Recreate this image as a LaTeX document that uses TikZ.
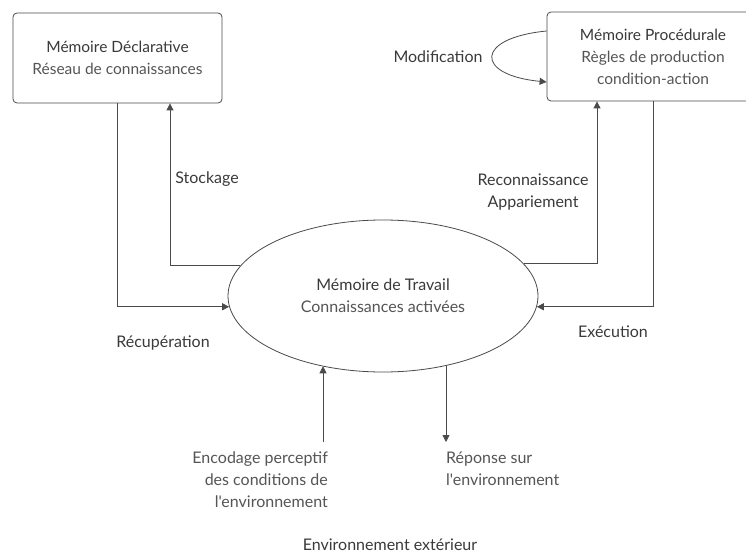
\documentclass[tikz,border=0pt]{standalone}
\usepackage{fontspec}
\setmainfont{Lato}[Ligatures=TeXOff]
\usetikzlibrary{shapes.geometric,arrows.meta,calc}
\definecolor{ink}{HTML}{3A3A3A}
\definecolor{soft}{HTML}{555555}
\definecolor{wire}{HTML}{4A4A4A}
\begin{document}
\begin{tikzpicture}[x=1pt,y=-1pt,
  box/.style={draw=wire, rounded corners=4pt, line width=0.8pt, align=center, text=soft,
    font=\fontsize{15.5}{22}\selectfont},
  conn/.style={draw=wire, line width=0.8pt},
  arr/.style={conn, -{Triangle[length=7pt,width=7pt]}},
  lbl/.style={text=soft, font=\fontsize{16}{22}\selectfont, align=center, inner sep=0pt},
  ttl/.style={text=ink}
]
\useasboundingbox (0,0) rectangle (746,556);
\fill[white] (0,0) rectangle (746,556);

\node[box, minimum width=209pt, minimum height=90pt] (ld) at (117.5,58)
  {{\color{ink}Mémoire Déclarative}\\Réseau de connaissances};
\node[box, minimum width=212pt, minimum height=89pt] (rp) at (653,56.5)
  {{\color{ink}Mémoire Procédurale}\\Règles de production\\condition-action};
\node[ellipse, draw=wire, line width=0.8pt, minimum width=310pt, minimum height=152pt,
  inner sep=0pt, align=center, text=soft, font=\fontsize{16}{22}\selectfont] (wm) at (383,296)
  {{\color{ink}Mémoire de Travail}\\Connaissances activées};

\node[lbl, ttl] (stock) at (207,179) {Stockage};
\node[lbl, ttl] (recup) at (163,343) {Récupération};
\node[lbl, ttl] (recon) at (533,192) {Reconnaissance\\Appariement};
\node[lbl, ttl] (exec) at (613,332) {Exécution};
\node[lbl, ttl] (modif) at (438,57) {Modification};
\node[lbl, align=right, anchor=east] (enc) at (328,480)
  {Encodage perceptif\\des conditions de\\l'environnement};
\node[lbl, align=left, anchor=west] (rep) at (446,469)
  {Réponse sur\\l'environnement};
\node[lbl, ttl] (env) at (390,545) {Environnement extérieur};

\coordinate (encS) at (323,442);
\coordinate (repE) at (446,442);

\draw[arr] (wm.168) -| ($(ld.south)+(52.5,0)$);
\draw[arr] (ld.south) |- (wm.184.5);
\draw[arr] (wm.13) -| ($(rp.south)+(-56,0)$);
\draw[arr] (rp.south) |- (wm.356);
\draw[arr] (encS) -- (encS |- wm.229.4);
\draw[arr] (repE |- wm.312) -- (repE);
\draw[arr] ([yshift=25.5pt]rp.west) .. controls +(-72,7) and +(-72,-7) .. ([yshift=-25.5pt]rp.west);
\end{tikzpicture}
\end{document}
